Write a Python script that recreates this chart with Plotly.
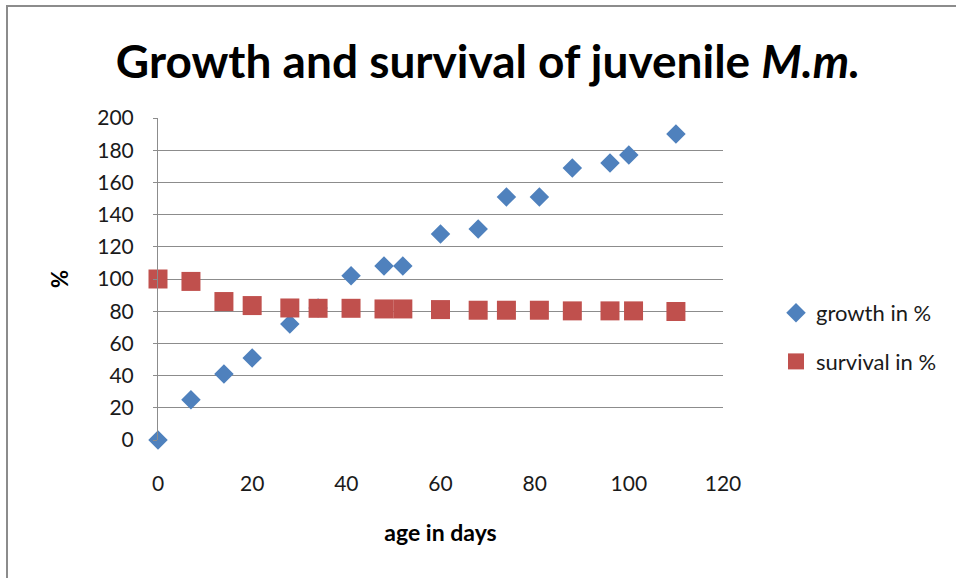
import plotly.graph_objects as go

# Growth measurements (days of age -> % of initial size)
growth_days = [0, 7, 14, 20, 28, 34, 41, 48, 52, 60, 68, 74, 81, 88, 96, 100, 110]
growth_pct = [0, 25, 41, 51, 72, 82, 102, 108, 108, 128, 131, 151, 151, 169, 172, 177, 190]

# Survival measurements (days of age -> % surviving)
survival_days = [0, 7, 14, 20, 28, 34, 41, 48, 52, 60, 68, 74, 81, 88, 96, 101, 110]
survival_pct = [100, 98.5, 86, 83.5, 82, 81.8, 81.8, 81.4, 81.4, 81, 80.6, 80.6, 80.6, 80.2, 80.2, 80.2, 79.8]

x_ticks = [0, 20, 40, 60, 80, 100, 120]
y_ticks = [0, 20, 40, 60, 80, 100, 120, 140, 160, 180, 200]

W, H = 956, 578
L, R, T, B = 158, 233, 118, 138
FONT = "Lato"

fig = go.Figure()
fig.add_trace(go.Scatter(
    x=growth_days, y=growth_pct, mode="markers", name="growth in %",
    legendgroup="g", cliponaxis=False,
    marker=dict(symbol="diamond", size=15, color="#4F81BD", line=dict(width=0)),
))
fig.add_trace(go.Scatter(
    x=survival_days, y=survival_pct, mode="markers", name="survival in %",
    legendgroup="s", cliponaxis=False,
    marker=dict(symbol="square", size=19, color="#C0504D", line=dict(width=0)),
))

pw, ph = W - L - R, H - T - B


def px_x(p):
    return (p - L) / pw


def px_y(p):
    return (H - B - p) / ph


fig.update_layout(
    width=W, height=H,
    margin=dict(l=L, r=R, t=T, b=B, pad=0),
    paper_bgcolor="white", plot_bgcolor="white",
    font=dict(family=FONT, color="#1a1a1a"),
    title=dict(
        text="<b>Growth and survival of juvenile <i>M.m.</i></b>",
        x=488 / W, xanchor="center", xref="container",
        y=1 - 62 / H, yanchor="middle", yref="container",
        font=dict(family=FONT, size=46, color="black"),
    ),
    xaxis=dict(
        range=[0, 120], tickvals=x_ticks, showgrid=False, zeroline=False,
        showline=False, ticks="", ticklabelstandoff=29,
        tickfont=dict(size=21, color="#1a1a1a"),
        title=dict(text="<b>age in days</b>", font=dict(size=23, color="black"), standoff=30),
    ),
    yaxis=dict(
        range=[0, 200], tickvals=y_ticks, showgrid=True, gridcolor="#8c8c8c",
        gridwidth=1, zeroline=False, showline=True, linecolor="#8c8c8c",
        linewidth=1, ticks="outside", ticklen=4, tickcolor="#8c8c8c",
        ticklabelstandoff=15,
        tickfont=dict(size=21, color="#1a1a1a"),
        title=dict(text="<b>%</b>", font=dict(size=22, color="black"), standoff=22),
    ),
    legend=dict(
        x=px_x(776), y=px_y(292), xanchor="left", yanchor="top",
        font=dict(size=22, color="#1a1a1a"), traceorder="grouped",
        tracegroupgap=17, bgcolor="rgba(0,0,0,0)",
    ),
    shapes=[dict(
        type="rect", xref="paper", yref="paper",
        x0=px_x(7), x1=px_x(962), y0=px_y(584), y1=px_y(6),
        line=dict(color="#8c8c8c", width=2), layer="below",
    )],
)

fig.write_html("out.html")
